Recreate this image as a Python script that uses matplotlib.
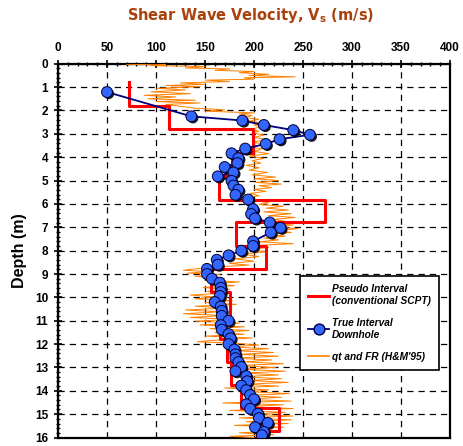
import matplotlib
matplotlib.use("Agg")
import matplotlib.pyplot as plt
import matplotlib.patheffects as pe
from matplotlib.lines import Line2D
from matplotlib.ticker import MultipleLocator
import numpy as np

plt.rcParams['font.family'] = ['Liberation Sans', 'DejaVu Sans']

# Pseudo interval (conventional SCPT): layer boundaries (m) and Vs of each layer (m/s)
pseudo_edges = [0.8, 1.82, 2.8, 3.82, 4.8, 5.82, 6.78, 7.78, 8.8, 9.78,
                10.85, 11.8, 12.75, 13.75, 14.74, 15.73, 16.0]
pseudo_vs = [72, 113, 199, 178, 164, 272, 182, 212, 156, 175,
             165, 172, 177, 187, 225, 203]

# True interval downhole
true_depth = [1.21, 2.25, 2.43, 2.62, 2.84, 3.04, 3.23, 3.43, 3.63, 3.83,
              4.04, 4.25, 4.42, 4.65, 4.82, 5.01, 5.21, 5.39, 5.61, 5.81,
              6.22, 6.43, 6.62, 6.79, 7.02, 7.22, 7.6, 7.8, 8.0, 8.2,
              8.39, 8.6, 8.78, 9.0, 9.2, 9.37, 9.59, 9.77, 9.94, 10.2,
              10.39, 10.58, 10.79, 11.0, 11.19, 11.38, 11.57, 11.75, 12.0, 12.23,
              12.44, 12.6, 12.77, 12.98, 13.16, 13.37, 13.59, 13.78, 13.97, 14.18,
              14.36, 14.58, 14.77, 14.98, 15.17, 15.37, 15.56, 15.76, 15.9]
true_vs = [50, 136, 188, 210, 240, 257, 226, 212, 191, 177,
           184, 183, 170, 179, 163, 177, 179, 184, 181, 194,
           199, 197, 201, 216, 227, 217, 199, 199, 187, 174,
           162, 163, 152, 152, 157, 165, 166, 166, 165, 160,
           166, 167, 167, 174, 166, 167, 174, 176, 174, 180,
           181, 181, 184, 187, 181, 192, 193, 187, 192, 196,
           200, 192, 196, 204, 205, 214, 201, 210, 208]

# qt and FR (H&M'95) estimate
cpt_depth = [0.02, 0.05, 0.08, 0.12, 0.18, 0.22, 0.28, 0.33, 0.38, 0.45,
             0.5, 0.56, 0.6, 0.66, 0.7, 0.76, 0.82, 0.88, 0.93, 0.98,
             1.05, 1.12, 1.2, 1.28, 1.35, 1.42, 1.5, 1.56, 1.62, 1.68,
             1.74, 1.82, 1.9, 1.97, 2.03, 2.1, 2.15, 2.22, 2.3, 2.38,
             2.45, 2.55, 2.62, 2.7, 2.8, 2.88, 2.95, 3.05, 3.15, 3.25,
             3.35, 3.45, 3.55, 3.65, 3.75, 3.85, 3.95, 4.05, 4.15, 4.25,
             4.35, 4.45, 4.55, 4.65, 4.75, 4.85, 4.92, 5.0, 5.08, 5.15,
             5.22, 5.3, 5.38, 5.46, 5.55, 5.65, 5.75, 5.85, 5.95, 6.02,
             6.1, 6.18, 6.26, 6.34, 6.42, 6.5, 6.58, 6.66, 6.74, 6.82,
             6.9, 6.98, 7.06, 7.14, 7.22, 7.3, 7.38, 7.46, 7.54, 7.62,
             7.7, 7.78, 7.86, 7.95, 8.05, 8.15, 8.25, 8.35, 8.45, 8.55,
             8.62, 8.7, 8.78, 8.84, 8.9, 8.96, 9.02, 9.1, 9.18, 9.26,
             9.34, 9.42, 9.5, 9.58, 9.66, 9.74, 9.82, 9.9, 9.98, 10.06,
             10.14, 10.22, 10.3, 10.38, 10.46, 10.54, 10.62, 10.7, 10.78, 10.86,
             10.94, 11.02, 11.1, 11.18, 11.26, 11.34, 11.42, 11.5, 11.58, 11.66,
             11.74, 11.82, 11.9, 11.96, 12.04, 12.12, 12.2, 12.28, 12.36, 12.44,
             12.52, 12.6, 12.68, 12.76, 12.84, 12.92, 13.0, 13.08, 13.16, 13.24,
             13.32, 13.4, 13.48, 13.56, 13.64, 13.72, 13.8, 13.88, 13.96, 14.04,
             14.12, 14.2, 14.28, 14.36, 14.44, 14.52, 14.6, 14.68, 14.76, 14.84,
             14.92, 15.0, 15.08, 15.16, 15.24, 15.32, 15.4, 15.48, 15.56, 15.64,
             15.72, 15.8, 15.88, 15.95, 16.0]
cpt_vs = [70, 110, 95, 150, 130, 175, 160, 200, 185, 215,
          195, 242, 190, 200, 150, 175, 125, 150, 110, 145,
          100, 130, 95, 135, 88, 120, 92, 140, 100, 145,
          110, 125, 140, 170, 150, 200, 185, 198, 190, 205,
          195, 210, 200, 208, 196, 205, 198, 210, 200, 215,
          198, 212, 195, 208, 200, 215, 195, 210, 198, 207,
          192, 205, 195, 214, 198, 222, 200, 225, 202, 228,
          205, 218, 200, 212, 196, 205, 190, 200, 215, 205,
          230, 212, 235, 210, 238, 215, 242, 220, 232, 212,
          240, 218, 245, 222, 238, 215, 232, 210, 225, 205,
          240, 200, 215, 195, 212, 188, 205, 180, 200, 175,
          195, 160, 140, 128, 155, 132, 165, 140, 170, 150,
          185, 155, 180, 148, 175, 152, 170, 135, 160, 140,
          178, 150, 182, 140, 172, 130, 165, 128, 170, 135,
          178, 140, 185, 145, 190, 155, 195, 160, 190, 150,
          198, 165, 142, 180, 205, 175, 215, 180, 220, 185,
          225, 178, 218, 190, 230, 182, 222, 188, 232, 190,
          225, 185, 228, 195, 235, 190, 225, 170, 215, 195,
          236, 192, 228, 188, 238, 168, 230, 190, 240, 175,
          232, 195, 240, 185, 238, 192, 235, 180, 230, 198,
          228, 185, 220, 175, 200]

xticks = [0, 50, 100, 150, 200, 250, 300, 350, 400]
yticks = list(range(0, 17))

fig = plt.figure(figsize=(4.64, 4.46), dpi=100)
ax = fig.add_axes([0.125, 0.019, 0.845, 0.838])

# step line for the pseudo interval
px = np.repeat(pseudo_vs, 2)
py = np.column_stack([pseudo_edges[:-1], pseudo_edges[1:]]).ravel()

ax.plot(cpt_vs, cpt_depth, color='#FF8000', lw=0.7, zorder=3)
ax.plot(px, py, color='#FF0000', lw=2.2, zorder=4)
ax.plot(true_vs, true_depth, color='#000080', lw=1.3, zorder=5)
ax.plot(true_vs, true_depth, ls='none', marker='o', ms=7.8, mfc='#3366FF',
        mec='#000033', mew=0.7, zorder=6,
        path_effects=[pe.SimplePatchShadow(offset=(1.2, -1.2), shadow_rgbFace='k', alpha=0.9),
                      pe.Normal()])

ax.set_xlim(0, 400)
ax.set_ylim(16, 0)
ax.xaxis.set_ticks_position('top')
ax.xaxis.set_label_position('top')
ax.set_xticks(xticks)
ax.set_yticks(yticks)
ax.xaxis.set_minor_locator(MultipleLocator(10))
ax.yaxis.set_minor_locator(MultipleLocator(0.2))
ax.tick_params(which='major', direction='inout', length=6, width=1.2,
               labelsize=8.5, pad=4)
ax.tick_params(which='minor', direction='inout', length=3, width=1)
for lab in ax.get_xticklabels() + ax.get_yticklabels():
    lab.set_fontweight('bold')
for s in ax.spines.values():
    s.set_linewidth(1.6)

ax.grid(True, which='major', color='k', ls=(0, (5, 4)), lw=0.9)
ax.set_axisbelow(True)

ax.set_ylabel('Depth (m)', fontsize=11.5, fontweight='bold', labelpad=6)
fig.text(0.54, 0.965, r'Shear Wave Velocity, V$_\mathregular{s}$ (m/s)',
         ha='center', va='center', fontsize=10.5, fontweight='bold',
         color='#A8410C', family='DejaVu Sans')

handles = [
    Line2D([], [], color='#FF0000', lw=2.2),
    Line2D([], [], color='#000080', lw=1.3, marker='o', ms=7.8,
           mfc='#3366FF', mec='#000033'),
    Line2D([], [], color='#FF8000', lw=1.2),
]
labels = ['Pseudo Interval\n(conventional SCPT)', 'True Interval\nDownhole',
          "qt and FR (H&M'95)"]
leg = ax.legend(handles, labels, loc='upper left', bbox_to_anchor=(0.605, 0.445),
                prop={'size': 7.3, 'weight': 'bold', 'style': 'italic'},
                frameon=True, fancybox=False, framealpha=1, edgecolor='k',
                handlelength=2.0, handletextpad=0.3, borderpad=0.8,
                labelspacing=1.2)
leg.get_frame().set_linewidth(1.2)
leg.set_zorder(10)

fig.savefig('out.png', dpi=100)
